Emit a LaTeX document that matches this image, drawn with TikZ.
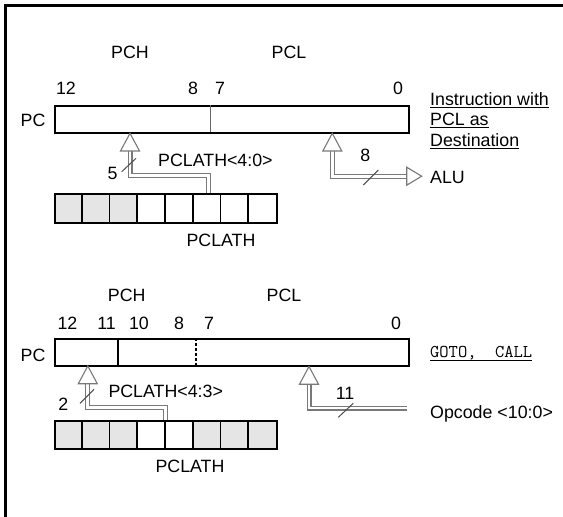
\documentclass[tikz,border=0pt]{standalone}
\usepackage{fontspec}
\setmainfont{Liberation Sans}
\newfontfamily\lmmonofam{Latin Modern Mono}
\begin{document}
\begin{tikzpicture}[x=1pt,y=-1pt,
  lbl/.style={font=\fontsize{17.8}{20}\selectfont, inner sep=0, anchor=base},
  lblw/.style={lbl, anchor=base west},
  mono/.style={font=\lmmonofam\fontsize{18}{20}\selectfont, inner sep=0, anchor=base west},
  reg/.style={draw, line width=1.8pt, inner sep=0, anchor=north west},
  bus/.style={draw=gray!95!black, line width=1.1pt, double=white, double distance=2.8pt, line join=miter},
  tri/.style={draw=gray!95!black, line width=1.1pt, fill=white, line join=miter},
  slash/.style={draw=gray!60!black, line width=1pt},
  ul/.style={line width=1pt},
  cellg/.style={fill=black!10}]
\useasboundingbox (0,0) rectangle (563,517);
% frame
\draw[line width=3pt, line join=miter] (5.5,517) -- (5.5,5.5) -- (563,5.5);

% ================= top section =================
\node[lbl] (pchA) at (130,58) {PCH};
\node[lbl] (pclA) at (289,58) {PCL};
\node[lbl] (nA12) at (66,94) {12};
\node[lbl] (nA8) at (193,94) {8};
\node[lbl] (nA7) at (220,94) {7};
\node[lbl] (nA0) at (398,94) {0};
\node[lbl] (pcA) at (33,126) {PC};
\node[reg, minimum width=354.3pt, minimum height=27pt] (boxA) at (54,105) {};
\draw[gray!80!black, line width=1pt] (210,105) -- (210,132);

% PCLATH register A
\fill[cellg] (54,193.3) rectangle (137.25,221.7);
\node[reg, minimum width=222pt, minimum height=28.4pt] (lathA) at (54,193.3) {};
\foreach \k in {1,...,7} \draw[line width=1.8pt] (54+27.75*\k,193.3) -- (54+27.75*\k,221.7);
\node[lbl] (lathAl) at (221,246) {PCLATH};

% bus PCLATH<4:0> -> PC
\coordinate (tA) at (130,133.3);
\coordinate (bAs) at (130,151);
\coordinate (bAe) at (208.5,193.3);
\draw[bus] (bAs) -- (130,175.3) -| (bAe);
\draw[tri] (tA) -- ++(-9.5,17.7) -- ++(19,0) -- cycle;
\draw[slash] (121.7,171.7) -- (136,158.3);
\node[lbl] (fiveA) at (112.5,179.5) {5};
\node[lblw] (lathAsub) at (158,166) {PCLATH<4:0>};

% bus PC <-> ALU
\coordinate (tB) at (332.3,133.3);
\coordinate (bBs) at (332.3,151);
\coordinate (bBe) at (406.7,176.2);
\draw[bus] (bBs) |- (bBe);
\draw[tri] (tB) -- ++(-9.5,17.7) -- ++(19,0) -- cycle;
\draw[tri] (bBe) ++(0,-9) -- ++(15,9) -- ++(-15,9) -- cycle;
\draw[slash] (363.3,185) -- (378.3,170);
\node[lbl] (eightB) at (365.3,161) {8};
\node[lblw] (alu) at (430,183) {ALU};

% instruction text
\node[lblw] (ins1) at (430,105) {Instruction with};
\node[lblw] (ins2) at (430,125.5) {PCL as\ };
\node[lblw] (ins3) at (430,146) {Destination};
\draw[ul] ([yshift=-2pt]ins1.base west) -- ([yshift=-2pt]ins1.base east);
\draw[ul] ([yshift=-2pt]ins2.base west) -- ([yshift=-2pt]ins2.base east);
\draw[ul] ([yshift=-2pt]ins3.base west) -- ([yshift=-2pt]ins3.base east);

% ================= bottom section =================
\node[lbl] (pchB) at (126.7,301) {PCH};
\node[lbl] (pclB) at (284,301) {PCL};
\node[lbl] (nB12) at (67.5,329.5) {12};
\node[lbl] (nB11) at (106.5,329.5) {11};
\node[lbl] (nB10) at (139,329.5) {10};
\node[lbl] (nB8) at (179,329.5) {8};
\node[lbl] (nB7) at (209,329.5) {7};
\node[lbl] (nB0) at (396,329.5) {0};
\node[lbl] (pcB) at (33,361) {PC};
\node[reg, minimum width=354.3pt, minimum height=27.3pt] (boxB) at (54,337.7) {};
\draw[line width=1.8pt] (118.3,337.7) -- (118.3,365);
\draw[line width=1.8pt, dash pattern=on 3pt off 2pt] (195.7,337.7) -- (195.7,365);

% PCLATH register B
\fill[cellg] (54,420) rectangle (137.25,447.7);
\fill[cellg] (192.75,420) rectangle (276,447.7);
\node[reg, minimum width=222pt, minimum height=27.7pt] (lathB) at (54,420) {};
\foreach \k in {1,...,7} \draw[line width=1.8pt] (54+27.75*\k,420) -- (54+27.75*\k,447.7);
\node[lbl] (lathBl) at (190,472) {PCLATH};

% bus PCLATH<4:3> -> PC
\coordinate (tC) at (87.8,366);
\coordinate (bCs) at (87.8,383.7);
\coordinate (bCe) at (165.3,420);
\draw[bus] (bCs) -- (87.8,407.5) -| (bCe);
\draw[tri] (tC) -- ++(-9.5,17.7) -- ++(19,0) -- cycle;
\draw[slash] (80,403.3) -- (94,389.3);
\node[lbl] (twoC) at (63.3,410) {2};
\node[lblw] (lathBsub) at (108.3,397.5) {PCLATH<4:3>};

% bus Opcode -> PC
\coordinate (tD) at (309,366.5);
\coordinate (bDs) at (309,384.2);
\coordinate (bDe) at (406.7,408);
\draw[bus] (bDs) |- (bDe);
\draw[tri] (tD) -- ++(-9.5,17.7) -- ++(19,0) -- cycle;
\draw[slash] (338.3,417.3) -- (353.3,403.3);
\node[lbl] (elevenD) at (345,399.5) {11};
\node[mono] (goto) at (430,357.7) {GOTO,\ \ CALL};
\draw[ul] ([yshift=-2.5pt]goto.base west) -- ([yshift=-2.5pt]goto.base east);
\node[lblw] (opc) at (430,418.5) {Opcode <10:0>};
\end{tikzpicture}
\end{document}
